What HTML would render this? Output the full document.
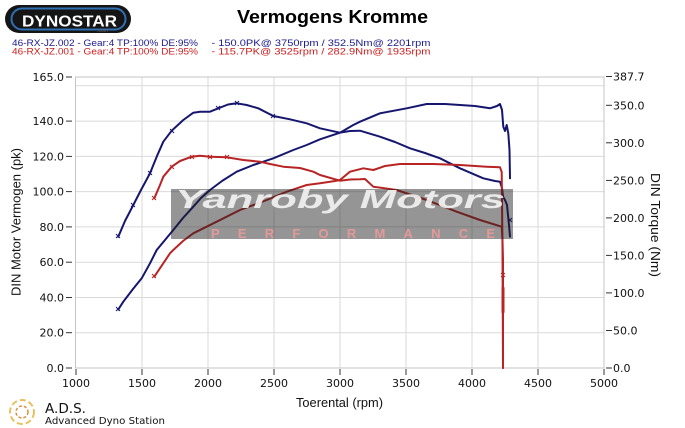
<!DOCTYPE html>
<html><head><meta charset="utf-8"><style>
html,body{margin:0;padding:0;background:#fff;}
svg{display:block;}
</style></head><body>
<svg width="685" height="428" viewBox="0 0 685 428" xmlns="http://www.w3.org/2000/svg">
<rect width="685" height="428" fill="#fff"/>
<!-- Dynostar logo -->
<rect x="5" y="5" width="126" height="28" rx="14" fill="#151515"/>
<rect x="11.5" y="8.5" width="114" height="21" rx="10.5" fill="none" stroke="#2f6fb3" stroke-width="2"/>
<text x="22" y="26.5" font-family="Liberation Sans, sans-serif" font-weight="bold" font-size="16" fill="#fff" textLength="95" lengthAdjust="spacingAndGlyphs">DYNOSTAR</text>
<text x="97" y="32" font-family="Liberation Sans, sans-serif" font-size="5" fill="#666">.com</text>
<!-- title -->
<text x="237" y="23" font-family="Liberation Sans, sans-serif" font-weight="bold" font-size="18.5" fill="#000" textLength="191" lengthAdjust="spacingAndGlyphs">Vermogens Kromme</text>
<!-- legend -->
<g font-family="Liberation Sans, sans-serif" font-size="9.5">
<text x="12" y="46" fill="#1a1a8c" textLength="186" lengthAdjust="spacingAndGlyphs">46-RX-JZ.002 - Gear:4 TP:100% DE:95%</text>
<text x="211.5" y="46" fill="#1a1a8c" textLength="219" lengthAdjust="spacingAndGlyphs">- 150.0PK@ 3750rpm / 352.5Nm@ 2201rpm</text>
<text x="12" y="54.5" fill="#cc2020" textLength="186" lengthAdjust="spacingAndGlyphs">46-RX-JZ.001 - Gear:4 TP:100% DE:95%</text>
<text x="211.5" y="54.5" fill="#cc2020" textLength="219" lengthAdjust="spacingAndGlyphs">- 115.7PK@ 3525rpm / 282.9Nm@ 1935rpm</text>
</g>
<!-- grid -->
<g stroke="#dadada" stroke-width="1">
<line x1="142" y1="77" x2="142" y2="368"/>
<line x1="208" y1="77" x2="208" y2="368"/>
<line x1="274" y1="77" x2="274" y2="368"/>
<line x1="340" y1="77" x2="340" y2="368"/>
<line x1="406" y1="77" x2="406" y2="368"/>
<line x1="472" y1="77" x2="472" y2="368"/>
<line x1="538" y1="77" x2="538" y2="368"/>
<line x1="75.5" y1="332.7" x2="604" y2="332.7"/>
<line x1="75.5" y1="297.5" x2="604" y2="297.5"/>
<line x1="75.5" y1="262.2" x2="604" y2="262.2"/>
<line x1="75.5" y1="226.9" x2="604" y2="226.9"/>
<line x1="75.5" y1="191.6" x2="604" y2="191.6"/>
<line x1="75.5" y1="156.4" x2="604" y2="156.4"/>
<line x1="75.5" y1="121.1" x2="604" y2="121.1"/>
<line x1="75.5" y1="85.8" x2="604" y2="85.8"/>
</g>
<g stroke="#c4c4c4" stroke-width="1" fill="none">
<rect x="75.5" y="77" width="528.5" height="291"/>
</g>
<!-- ticks -->
<g stroke="#333" stroke-width="1">
<line x1="66" y1="368" x2="72" y2="368"/>
<line x1="66" y1="332.7" x2="72" y2="332.7"/>
<line x1="66" y1="297.5" x2="72" y2="297.5"/>
<line x1="66" y1="262.2" x2="72" y2="262.2"/>
<line x1="66" y1="226.9" x2="72" y2="226.9"/>
<line x1="66" y1="191.6" x2="72" y2="191.6"/>
<line x1="66" y1="156.4" x2="72" y2="156.4"/>
<line x1="66" y1="121.1" x2="72" y2="121.1"/>
<line x1="66" y1="77" x2="72" y2="77"/>
<line x1="606" y1="368" x2="612" y2="368"/>
<line x1="606" y1="330.5" x2="612" y2="330.5"/>
<line x1="606" y1="292.9" x2="612" y2="292.9"/>
<line x1="606" y1="255.4" x2="612" y2="255.4"/>
<line x1="606" y1="217.9" x2="612" y2="217.9"/>
<line x1="606" y1="180.4" x2="612" y2="180.4"/>
<line x1="606" y1="142.8" x2="612" y2="142.8"/>
<line x1="606" y1="105.3" x2="612" y2="105.3"/>
<line x1="606" y1="76.5" x2="612" y2="76.5"/>
<line x1="76" y1="369" x2="76" y2="375"/>
<line x1="142" y1="369" x2="142" y2="375"/>
<line x1="208" y1="369" x2="208" y2="375"/>
<line x1="274" y1="369" x2="274" y2="375"/>
<line x1="340" y1="369" x2="340" y2="375"/>
<line x1="406" y1="369" x2="406" y2="375"/>
<line x1="472" y1="369" x2="472" y2="375"/>
<line x1="538" y1="369" x2="538" y2="375"/>
<line x1="604" y1="369" x2="604" y2="375"/>
</g>
<g font-family="DejaVu Sans, sans-serif" font-size="11" fill="#111">
<g text-anchor="end">
<text x="64" y="372">0.0</text>
<text x="64" y="336.7">20.0</text>
<text x="64" y="301.5">40.0</text>
<text x="64" y="266.2">60.0</text>
<text x="64" y="230.9">80.0</text>
<text x="64" y="195.6">100.0</text>
<text x="64" y="160.4">120.0</text>
<text x="64" y="125.1">140.0</text>
<text x="64" y="81">165.0</text>
</g>
<text x="613" y="372">0.0</text>
<text x="613" y="334.5">50.0</text>
<text x="613" y="296.9">100.0</text>
<text x="613" y="259.4">150.0</text>
<text x="613" y="221.9">200.0</text>
<text x="613" y="184.4">250.0</text>
<text x="613" y="146.8">300.0</text>
<text x="613" y="109.3">350.0</text>
<text x="613" y="80.5">387.7</text>
<g text-anchor="middle">
<text x="76" y="387">1000</text>
<text x="142" y="387">1500</text>
<text x="208" y="387">2000</text>
<text x="274" y="387">2500</text>
<text x="340" y="387">3000</text>
<text x="406" y="387">3500</text>
<text x="472" y="387">4000</text>
<text x="538" y="387">4500</text>
<text x="604" y="387">5000</text>
</g>
</g>
<!-- axis titles -->
<text x="296" y="407" font-family="Liberation Sans, sans-serif" font-size="13" fill="#111" textLength="87" lengthAdjust="spacingAndGlyphs">Toerental (rpm)</text>
<text transform="translate(20.5,296) rotate(-90)" x="0" y="0" font-family="Liberation Sans, sans-serif" font-size="13" fill="#111" textLength="148" lengthAdjust="spacingAndGlyphs">DIN Motor Vermogen (pk)</text>
<text transform="translate(651,173) rotate(90)" x="0" y="0" font-family="Liberation Sans, sans-serif" font-size="13" fill="#111" textLength="104" lengthAdjust="spacingAndGlyphs">DIN Torque (Nm)</text>
<!-- curves -->
<g fill="none" stroke-width="2" stroke-linejoin="round" stroke-linecap="round">
<polyline stroke="#16166e" points="118.3,309.5 123.3,301.7 133,289 141.7,278.3 150,263.3 156.7,250 165,240 173.3,230 183,218 193.3,206.7 201,198 210,190 222,181 236.7,171.7 253.3,165 273.3,158.3 293.3,150 306.7,145 320,139.3 340,132.7 353.3,125 360,121.7 380,113.3 406.7,108.3 426.7,104 445,104 460,105 475,106 490,108.3 497,106 500,104 502,110 503.3,126.7 505,131 506.7,125 508.3,133.3 509.5,150 510,178.3"/>
<polyline stroke="#16166e" points="118.3,236.7 125,221 133.3,205 141,190 150,173.3 156.7,156.7 163.3,141.7 171.7,130.7 183.3,120 193.3,112.7 200,111.7 210,111.7 218.3,108.3 228,104.5 236.7,103.3 246.7,105 258.3,108.3 273.3,116 290,119.3 306.7,123.3 320,128.3 340,132.7 350,131 360,130.7 380,136.7 395,142 410,148.3 425,153 440,158.3 460,168.3 483.3,178.3 495,181 500,181.7 502,188 503,196.7 505,200 507,205 508,215 509,225 510,236.7"/>
<polyline stroke="#b82424" points="154.3,198.3 160,185 163.3,176.7 171.7,166.7 180,161 191.7,156.7 200,155.7 210,156.7 226.7,157.3 243.3,160 260,161.7 270,164 283.3,166.7 300,168 313.3,171.7 320,175 340,180.7 350,179.5 360,179.3 365,179 373.3,186.7 396.7,190 426.7,200 456.7,211.7 480,220 501.7,226.7 502.5,240 503,260 503,368"/>
<polyline stroke="#b82424" points="154.3,276.7 163.3,263.3 170,253.3 173.3,250 183,241 193.3,233.3 216.7,221.7 240,210 266.7,200 286.7,191.7 306.7,185 320,183.3 335,181 340,180 350,171.7 363.3,168.3 373.3,170 385,166 400,164 433.3,164 460,165 486.7,166.7 500,167.3 501.7,172 502,200 502.5,250 503,368"/>
<line x1="503" y1="288" x2="503" y2="312" stroke="#b82424" stroke-width="3"/>
</g>
<!-- markers -->
<g stroke-width="1" fill="none">
<path stroke="#16166e" d="M116,234l4,4M120,234l-4,4 M131,203l4,4M135,203l-4,4 M148,171l4,4M152,171l-4,4 M170,129l4,4M174,129l-4,4 M216,106l4,4M220,106l-4,4 M235,101l4,4M239,101l-4,4 M271,114l4,4M275,114l-4,4 M116,307l4,4M120,307l-4,4 M508,218l4,4M512,218l-4,4"/>
<path stroke="#b82424" d="M152,196l4,4M156,196l-4,4 M170,165l4,4M174,165l-4,4 M190,155l4,4M194,155l-4,4 M208,155l4,4M212,155l-4,4 M225,155l4,4M229,155l-4,4 M152,274l4,4M156,274l-4,4 M501,273l4,4M505,273l-4,4"/>
</g>
<!-- watermark -->
<rect x="171" y="189" width="342" height="50" fill="#1e1e1e" opacity="0.47"/>
<text x="175" y="208" font-family="Liberation Sans, sans-serif" font-weight="bold" font-style="italic" font-size="26" fill="#f2f2f2" opacity="0.92" textLength="330" lengthAdjust="spacingAndGlyphs">Yanroby Motors</text>
<text x="211" y="238" font-family="Liberation Sans, sans-serif" font-weight="bold" font-size="13" fill="#f09a9a" opacity="0.88" textLength="284" lengthAdjust="spacing">PERFORMANCE</text>
<!-- ADS logo -->
<g fill="none" stroke-width="2">
<circle cx="22" cy="412" r="12" stroke="#e8c060" stroke-dasharray="6 3"/>
<circle cx="22" cy="412" r="6" stroke="#d89040" stroke-width="1.5" stroke-dasharray="3 2"/>
</g>
<text x="45" y="413" font-family="DejaVu Sans, sans-serif" font-size="13" fill="#111" textLength="41" lengthAdjust="spacingAndGlyphs">A.D.S.</text>
<text x="45" y="424" font-family="DejaVu Sans, sans-serif" font-size="10" fill="#111" textLength="120" lengthAdjust="spacingAndGlyphs">Advanced Dyno Station</text>
</svg>
</body></html>
